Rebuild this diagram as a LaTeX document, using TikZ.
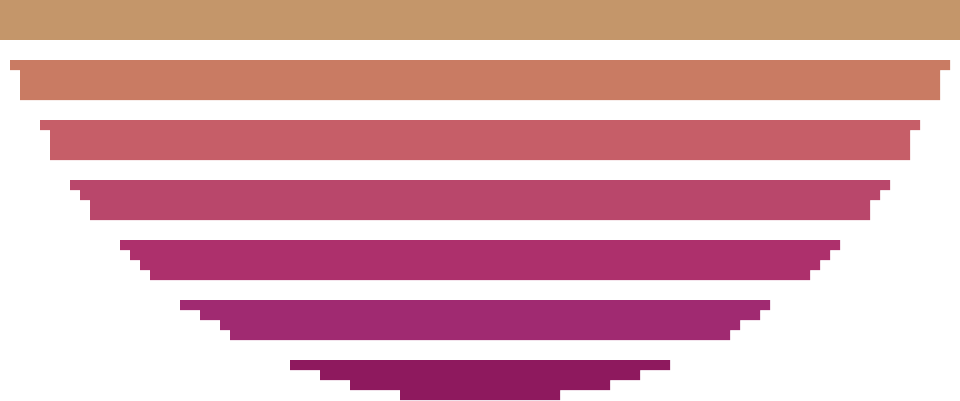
\documentclass[tikz,border=0pt]{standalone}
\usepackage{tikz}

\definecolor{bandA}{HTML}{C4966A}
\definecolor{bandB}{HTML}{C97B63}
\definecolor{bandC}{HTML}{C65E68}
\definecolor{bandD}{HTML}{B9476B}
\definecolor{bandE}{HTML}{AD306C}
\definecolor{bandF}{HTML}{A02A71}
\definecolor{bandG}{HTML}{8E195E}

\begin{document}
\begin{tikzpicture}[x=0.2mm, y=-0.2mm]
  \useasboundingbox (0, 0) rectangle (960, 400);
  \fill[bandA] (0, 0) rectangle (960, 40);
  \fill[bandB] (10, 60) -- (950, 60) -- (950, 70) -- (940, 70) -- (940, 100)
    -- (20, 100) -- (20, 70) -- (10, 70) -- cycle;
  \fill[bandC] (40, 120) -- (920, 120) -- (920, 130) -- (910, 130) -- (910, 160)
    -- (50, 160) -- (50, 130) -- (40, 130) -- cycle;
  \fill[bandD] (70, 180) -- (890, 180) -- (890, 190) -- (880, 190) -- (880, 200)
    -- (870, 200) -- (870, 220) -- (90, 220) -- (90, 200) -- (80, 200)
    -- (80, 190) -- (70, 190) -- cycle;
  \fill[bandE] (120, 240) -- (840, 240) -- (840, 250) -- (830, 250) -- (830, 260)
    -- (820, 260) -- (820, 270) -- (810, 270) -- (810, 280) -- (150, 280)
    -- (150, 270) -- (140, 270) -- (140, 260) -- (130, 260) -- (130, 250)
    -- (120, 250) -- cycle;
  \fill[bandF] (180, 300) -- (770, 300) -- (770, 310) -- (760, 310) -- (760, 320)
    -- (740, 320) -- (740, 330) -- (730, 330) -- (730, 340) -- (230, 340)
    -- (230, 330) -- (220, 330) -- (220, 320) -- (200, 320) -- (200, 310)
    -- (180, 310) -- cycle;
  \fill[bandG] (290, 360) -- (670, 360) -- (670, 370) -- (640, 370) -- (640, 380)
    -- (610, 380) -- (610, 390) -- (560, 390) -- (560, 400) -- (400, 400)
    -- (400, 390) -- (350, 390) -- (350, 380) -- (320, 380) -- (320, 370)
    -- (290, 370) -- cycle;
\end{tikzpicture}
\end{document}
